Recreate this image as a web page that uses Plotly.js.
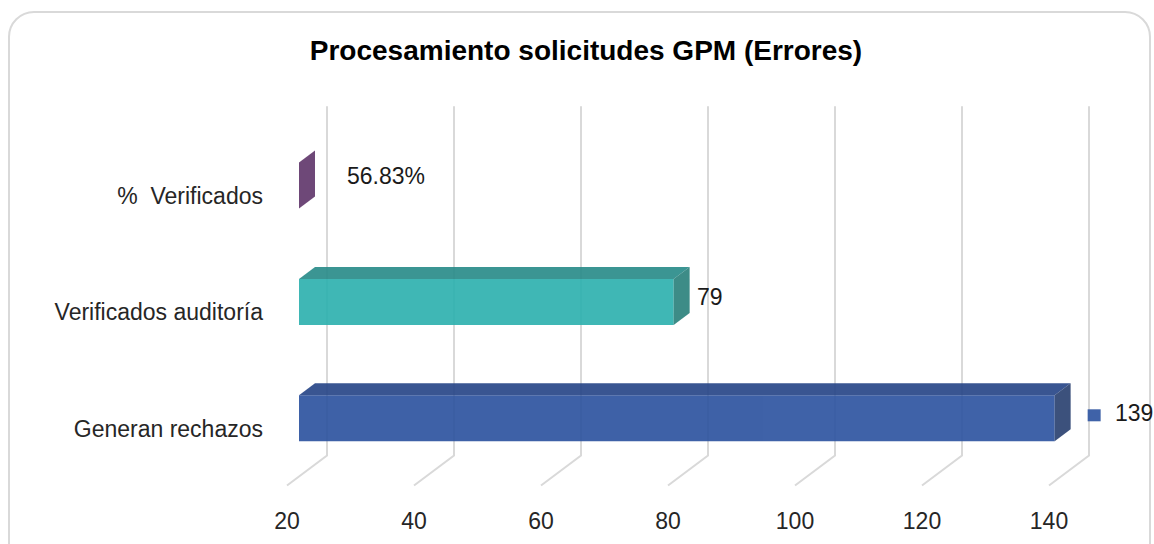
<!DOCTYPE html>
<html>
<head>
<meta charset="utf-8">
<script src="https://cdn.plot.ly/plotly-3.0.1.min.js"></script>
<style>
  html, body { margin: 0; padding: 0; background: #ffffff; }
  #frame {
    position: absolute; left: 8px; top: 11px; width: 1143px; height: 560px;
    border: 2px solid #d9d9d9; border-radius: 26px; box-sizing: border-box;
  }
  #chart { position: absolute; left: 0; top: 0; width: 1154px; height: 544px; }
</style>
</head>
<body>
<div id="frame"></div>
<div id="chart"></div>
<script>
// Categories listed bottom to top
const categories = ['Generan rechazos', 'Verificados auditoría', '%\u00a0 Verificados'];
const values = [139, 79, 0.5683];
const valueKinds = ['count', 'count', 'percent'];
const xTicks = [20, 40, 60, 80, 100, 120, 140];

const frontColors = ['#2a519e', '#2bb0ae', '#5e3469'];
const topColors   = ['#244385', '#268a87', '#4f2a59'];
const sideColors  = ['#273e6e', '#287f7a', '#5e3469'];

// Value label offsets (px) from the bar end
const labelDx = [58, 21, 46];
const labelDy = [5, 5, 10];

const FONT = 'Liberation Sans, Arial, sans-serif';

// Axis and pseudo-3D geometry
const AXIS_MIN = 20;
const PX_PER_UNIT = 6.35;        // horizontal scale
const PX_PER_ROW = 116.4;        // vertical distance between categories
const DX = 40 / PX_PER_UNIT;     // full depth, horizontal (data units)
const DY = 30 / PX_PER_ROW;      // full depth, vertical (data units)
const FRONT_D = 0.3, BACK_D = 0.7;  // bar depth span within the box
const BW = 46 / PX_PER_ROW;      // bar thickness
const FLOOR = -0.5, CEIL = 2.5;
const ALPHA = 0.9;

const L = 266, R = 1140, T = 95, B = 500;
const x0px = 299;                // pixel of AXIS_MIN on the bar plane
const xr = [AXIS_MIN + (L - x0px) / PX_PER_UNIT, AXIS_MIN + (R - x0px) / PX_PER_UNIT];
const y0px = 418.3;              // pixel of category 0 on the bar plane
const yr = [(y0px - B) / PX_PER_ROW, (y0px - T) / PX_PER_ROW];

// project (value, height, depth) to data coords of the bar plane
function P(v, y, d) {
  return [v + (d - FRONT_D) * DX, y + (d - FRONT_D) * DY];
}
function pathOf(pts) {
  return 'M' + pts.map(p => p[0] + ',' + p[1]).join('L') + 'Z';
}

const shapes = [];
// back-wall gridlines and their floor diagonals
xTicks.forEach(v => {
  const b0 = P(v, FLOOR, 1), b1 = P(v, CEIL, 1), f0 = P(v, FLOOR, 0);
  shapes.push({
    type: 'path', xref: 'x', yref: 'y', layer: 'below',
    path: 'M' + b1[0] + ',' + b1[1] + 'L' + b0[0] + ',' + b0[1] + 'L' + f0[0] + ',' + f0[1],
    line: { color: '#d9d9d9', width: 2 }
  });
});

const ends = values.map(v => Math.max(v, AXIS_MIN));
ends.forEach((e, i) => {
  const yt = i + BW / 2, yb = i - BW / 2;
  if (e > AXIS_MIN) {
    shapes.push({
      type: 'path', xref: 'x', yref: 'y', layer: 'above', opacity: ALPHA,
      path: pathOf([P(AXIS_MIN, yt, FRONT_D), P(e, yt, FRONT_D), P(e, yt, BACK_D), P(AXIS_MIN, yt, BACK_D)]),
      fillcolor: topColors[i], line: { width: 0 }
    });
  }
  shapes.push({
    type: 'path', xref: 'x', yref: 'y', layer: 'above', opacity: ALPHA,
    path: pathOf([P(e, yb, FRONT_D), P(e, yt, FRONT_D), P(e, yt, BACK_D), P(e, yb, BACK_D)]),
    fillcolor: sideColors[i], line: { width: 0 }
  });
});

// legend key beside the first value label
shapes.push({
  type: 'rect', xref: 'x', yref: 'y', layer: 'above',
  xsizemode: 'pixel', ysizemode: 'pixel', xanchor: ends[0], yanchor: 0,
  x0: 33, x1: 46, y0: -3, y1: 9,
  fillcolor: '#3f62a8', line: { width: 0 }
});

function fmt(v, kind) {
  return kind === 'percent' ? (v * 100).toFixed(2) + '%' : String(v);
}

const annotations = values.map((v, i) => ({
  xref: 'x', yref: 'y', x: ends[i], y: i, text: fmt(v, valueKinds[i]),
  showarrow: false, xanchor: 'left', yanchor: 'middle',
  xshift: labelDx[i], yshift: labelDy[i],
  font: { family: FONT, size: 23, color: '#1a1a1a' }
}));

const trace = {
  type: 'bar', orientation: 'h',
  y: categories.map((c, i) => i),
  x: ends.map(e => e - AXIS_MIN),
  base: AXIS_MIN,
  width: BW,
  marker: { color: frontColors, line: { width: 0 } },
  opacity: ALPHA,
  hoverinfo: 'skip', showlegend: false
};

const layout = {
  width: 1154, height: 544,
  margin: { l: L, r: 1154 - R, t: T, b: 544 - B },
  paper_bgcolor: 'rgba(0,0,0,0)', plot_bgcolor: 'rgba(0,0,0,0)',
  showlegend: false,
  title: {
    text: '<b>Procesamiento solicitudes GPM (Errores)</b>',
    xref: 'container', yref: 'container', x: 586 / 1154, y: 1 - 50 / 544,
    xanchor: 'center', yanchor: 'middle',
    font: { family: FONT, size: 28, color: '#000000' }
  },
  xaxis: {
    range: xr, showgrid: false, zeroline: false, showline: false, ticks: '',
    tickvals: xTicks.map(v => v - FRONT_D * DX), ticktext: xTicks.map(String),
    ticklabelstandoff: 5,
    tickfont: { family: FONT, size: 23, color: '#262626' },
    fixedrange: true
  },
  yaxis: {
    range: yr, showgrid: false, zeroline: false, showline: false, ticks: '',
    tickvals: categories.map((c, i) => i - 0.09), ticktext: categories,
    ticklabelstandoff: 2,
    tickfont: { family: FONT, size: 23, color: '#262626' },
    fixedrange: true
  },
  shapes: shapes,
  annotations: annotations
};

Plotly.newPlot('chart', [trace], layout, { staticPlot: true, displayModeBar: false });
</script>
</body>
</html>
